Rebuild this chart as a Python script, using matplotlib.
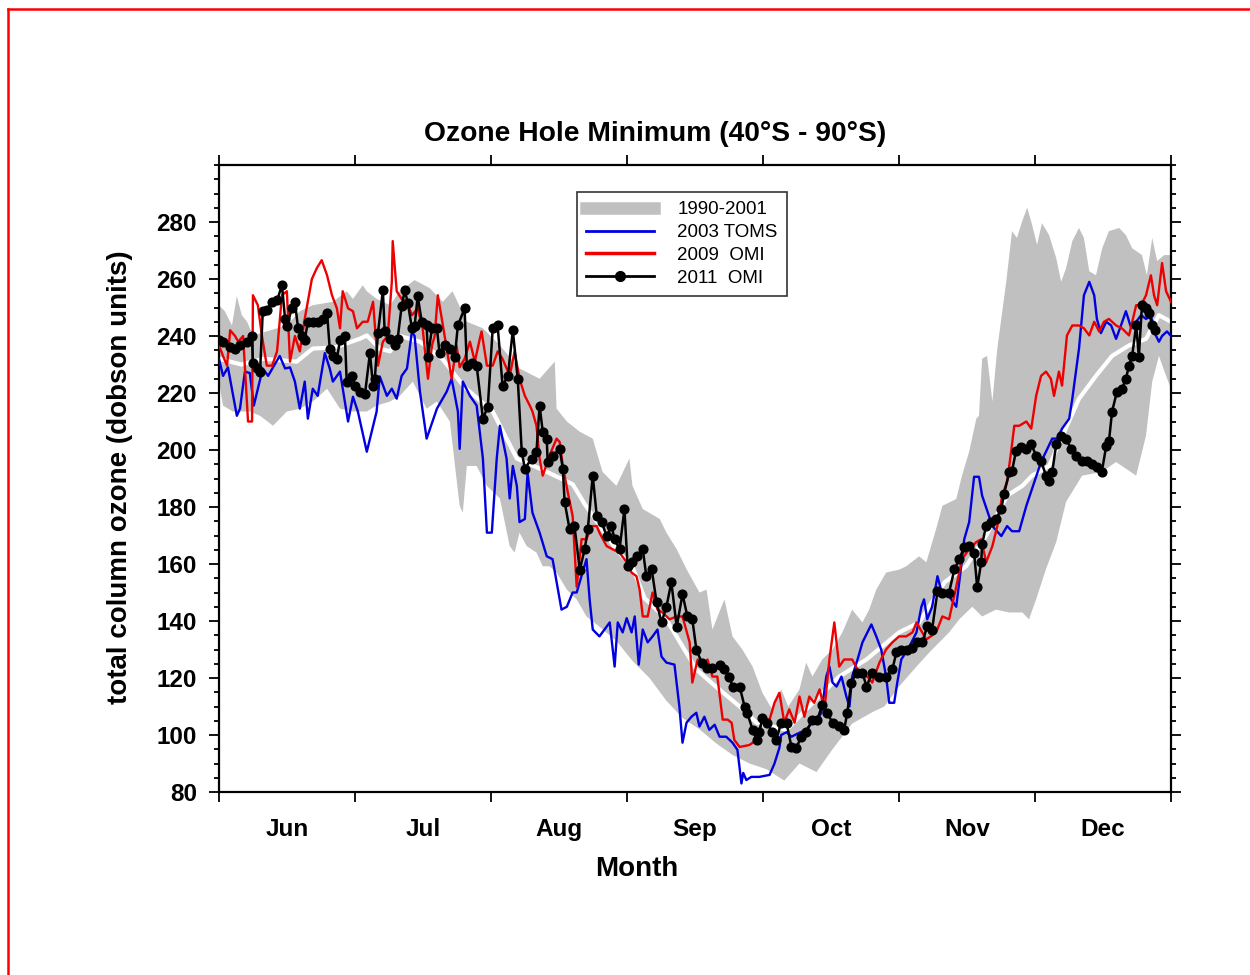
import numpy as np
import matplotlib
matplotlib.use("Agg")
import matplotlib.pyplot as plt
from matplotlib.lines import Line2D
from matplotlib.ticker import MultipleLocator

plt.rcParams['font.family'] = ['Liberation Sans', 'DejaVu Sans']

# x values are days since 1 June
months = ['Jun', 'Jul', 'Aug', 'Sep', 'Oct', 'Nov', 'Dec']
n_days = 213.2

# 1990-2001 range, upper and lower edge
band_hi_x = [0.0, 1.3, 2.9, 4.0, 5.1, 6.3, 7.6, 15.2, 18.1, 21.0, 25.5, 28.6, 30.0, 32.2, 33.1,
             35.3, 38.3, 40.5, 43.8, 47.2, 50.1, 52.3, 55.5, 59.1, 62.9, 67.3, 71.8, 75.2, 75.6,
             77.9, 80.8, 83.7, 85.9, 89.0, 91.9, 92.6, 94.9, 98.7, 100.2, 102.5, 104.7, 107.6,
             109.2, 110.5, 113.2, 115.0, 117.2, 119.5, 121.7, 123.9, 125.9, 127.5, 130.0, 131.5,
             132.9, 135.1, 137.4, 139.6, 141.8, 144.1, 145.6, 147.2, 149.4, 152.3, 153.9, 156.8,
             158.4, 160.6, 162.0, 165.1, 166.4, 168.0, 169.6, 170.2, 170.9, 172.0, 173.2, 174.3,
             176.3, 177.6, 178.7, 179.9, 181.0, 182.1, 183.2, 184.3, 185.9, 187.5, 188.6, 189.7,
             191.1, 192.6, 193.7, 194.9, 196.4, 197.8, 199.3, 201.6, 203.1, 204.5, 206.7, 207.8,
             209.0, 210.1, 211.7, 213.2]
band_hi_y = [250.8, 248.7, 243.7, 254, 247.3, 245, 240.2, 243.7, 248.7, 250.8, 252, 255.7, 253,
             257.8, 255.7, 253, 250.8, 255.7, 259.6, 256.8, 252, 255.7, 245, 242.7, 236.7, 228.6,
             225, 231, 214.5, 210, 206.4, 204, 192.3, 187.4, 197, 187.4, 179.3, 175.8, 171,
             165.2, 158.2, 150, 151, 137, 147.6, 134.6, 130, 124, 114.8, 108.9, 116, 110, 116,
             125.4, 120.5, 126.5, 130, 136, 144, 139.5, 144, 151, 157, 158, 159.2, 162.7, 160.6,
             172.3, 180.4, 182.8, 191, 199.4, 211, 212, 232, 233, 217, 235.6, 259, 276.8, 274.4,
             280.4, 285, 279, 272, 279.6, 275.4, 267.3, 259, 263.8, 273.3, 277.9, 274.4, 262.7,
             261.3, 270.8, 276.8, 277.9, 275.4, 270.8, 268.4, 261.3, 274.4, 266.3, 268.4, 268.4]
band_lo_x = [0.0, 0.9, 3.1, 6.9, 9.2, 12.1, 15.2, 18.1, 21.0, 24.2, 27.1, 30.0, 33.1, 35.3, 38.3,
             40.5, 43.4, 46.5, 48.8, 51.7, 53.9, 54.6, 55.5, 57.7, 60.0, 62.9, 65.1, 66.2, 67.3,
             68.9, 71.1, 72.5, 74.0, 75.6, 77.9, 80.1, 82.3, 85.2, 89.0, 92.6, 96.4, 100.2, 103.8,
             107.6, 111.4, 115.0, 118.8, 122.6, 126.6, 130.0, 133.8, 137.4, 141.8, 146.3, 149.0,
             152.3, 156.2, 159.1, 163.5, 165.8, 168.7, 170.9, 174.0, 176.9, 179.9, 181.4, 183.0,
             185.2, 187.5, 189.7, 193.3, 197.7, 200.9, 205.4, 207.6, 209.0, 210.5, 212.1, 213.2]
band_lo_y = [224, 215.6, 213.5, 213.5, 212, 208.5, 213.5, 214.5, 217, 221.5, 214.5, 213.5, 213.5,
             215.6, 217, 219, 224, 214.5, 217, 210, 180.4, 178, 194.4, 194.4, 187.4, 183, 166.3,
             164, 171, 166.3, 164, 159.2, 159.2, 157, 151, 147.6, 141.6, 138, 133, 126, 120, 112,
             106, 102, 97, 93, 90, 88, 84, 90, 87, 95, 104, 108, 110, 117, 124, 129, 136, 140.6,
             145, 141.6, 144, 143, 143, 140.6, 147.6, 158.2, 167.7, 181.8, 191, 192.3, 195.8, 191,
             205, 224, 233, 226, 221.5]

# 1990-2001 mean (white line)
mean_x = [0.0, 5.0, 10.0, 17.4, 21.0, 26.0, 31.5, 33.1, 36.0, 38.3, 40.5, 45.0, 50.0, 55.0, 61.3,
          66.7, 72.5, 79.2, 81.9, 89.0, 92.6, 95.3, 100.0, 106.9, 110.5, 116.6, 120.4, 127.1,
          131.5, 138.9, 145.0, 152.3, 156.8, 162.5, 167.3, 171.8, 176.5, 179.9, 182.1, 185.9,
          192.6, 196.4, 200.0, 203.8, 207.6, 210.5, 213.2]
mean_y = [232, 230, 232, 231, 235.6, 236, 239, 240.2, 235.6, 234.6, 240, 238, 232, 222, 213.5,
          197, 193, 188, 181, 165, 159, 148, 141, 123, 118, 110, 104.3, 101.8, 109, 120.5, 126.5,
          136, 139.5, 153.6, 159.2, 170, 184, 187.4, 191, 194.4, 218, 226, 233, 236.7, 239,
          247.3, 245]

# 2003 TOMS
toms03_x = [0.0, 0.9, 2.0, 4.0, 4.7, 5.8, 6.9, 7.8, 8.7, 9.8, 11.0, 12.1, 13.6, 14.8, 15.9, 17.0,
            18.1, 19.2, 19.9, 21.0, 22.1, 23.7, 24.8, 25.5, 27.1, 28.9, 30.0, 31.1, 33.1, 35.3,
            36.0, 37.6, 38.7, 39.8, 40.9, 42.1, 43.2, 43.8, 45.0, 46.5, 48.8, 51.0, 52.1, 53.5,
            53.9, 54.6, 56.2, 57.7, 59.1, 60.0, 61.1, 62.2, 62.9, 64.4, 65.1, 65.8, 66.7, 67.3,
            68.5, 69.1, 70.2, 71.8, 73.4, 74.7, 75.8, 76.7, 77.9, 79.2, 80.1, 82.3, 83.0, 83.7,
            85.2, 87.5, 88.6, 89.3, 90.4, 91.3, 92.4, 93.1, 94.0, 94.9, 96.0, 97.1, 98.2, 99.1,
            100.2, 102.0, 103.1, 103.8, 104.7, 105.8, 106.9, 107.6, 108.7, 109.8, 111.0, 112.1,
            113.6, 115.0, 116.1, 117.0, 117.4, 118.1, 119.2, 121.0, 123.3, 124.4, 125.5, 125.9,
            127.1, 128.2, 130.0, 131.5, 132.9, 134.0, 134.9, 136.0, 136.7, 137.4, 138.3, 139.4,
            140.5, 141.2, 141.8, 143.0, 144.1, 146.1, 147.2, 148.3, 149.4, 150.1, 151.2, 151.9,
            152.8, 154.6, 156.2, 157.3, 157.9, 158.6, 159.7, 160.9, 161.7, 162.9, 164.0, 165.1,
            166.2, 166.9, 168.0, 169.1, 170.2, 170.9, 173.2, 175.2, 176.5, 177.6, 179.2, 180.8,
            182.6, 184.1, 185.2, 186.6, 187.7, 188.8, 190.4, 191.1, 192.6, 193.7, 194.9, 196.0,
            196.6, 197.5, 198.7, 199.8, 200.9, 202.0, 203.1, 204.3, 205.4, 206.5, 207.6, 208.7,
            209.8, 210.5, 211.2, 212.3, 213.2]
toms03_y = [232, 226, 229, 212, 214.5, 227.5, 227, 215.6, 221.5, 228.6, 226, 229, 233, 228.6, 229,
            224, 214.5, 224, 211, 221.5, 219, 234, 228.6, 224, 227.5, 210, 218.7, 213.5, 199.4,
            213.5, 225.8, 219, 221.5, 218, 226, 228.6, 241.6, 240, 220.5, 204, 214.5, 220.5, 225,
            213.5, 200.4, 224, 219, 215.6, 197, 171, 171, 197, 208.5, 197, 183, 194.4, 187.4,
            174.7, 175.8, 192, 178, 171, 162.7, 161.7, 152, 144, 145, 150, 150, 161.7, 147.6, 137,
            134.6, 139.5, 124, 139.5, 136, 141, 136, 141.6, 124.7, 137, 132.5, 134.6, 137, 127.5,
            125.4, 124.7, 110, 97.3, 104.3, 106.4, 107.8, 103, 106.4, 101.8, 103.6, 99.4, 99.4,
            97.3, 94.8, 83, 86.7, 84.2, 85.3, 85.3, 86, 90, 95.5, 100, 101, 99.4, 100.8, 101.8,
            104.6, 105.4, 107.8, 120.5, 124, 118.4, 117, 120.5, 113.5, 110, 120.5, 126.5, 132.5,
            138.8, 134.6, 130, 120.5, 111.3, 111.3, 118.4, 126.5, 131, 136, 145, 147.6, 140.6,
            145, 155.7, 151, 150, 147.6, 145, 159, 168.7, 174.7, 190.6, 190.6, 184, 173.3, 169.8,
            173.3, 171.5, 171.5, 180.4, 188.8, 195.8, 199.4, 204, 204, 207.5, 211, 218, 235.6,
            254.3, 259, 254.3, 246, 241, 245, 243.7, 239, 243.7, 248.7, 242.7, 245, 247.3, 246,
            247, 240.2, 238, 240, 241.6, 240]

# 2009 OMI
omi09_x = [0.0, 0.9, 1.8, 2.5, 3.6, 4.3, 5.4, 6.5, 7.4, 7.6, 8.7, 9.6, 10.7, 11.9, 13.0, 14.1,
           15.2, 15.9, 17.0, 18.1, 19.2, 20.8, 21.9, 23.0, 24.2, 25.3, 26.4, 27.1, 27.7, 28.9,
           30.0, 30.9, 32.2, 33.3, 34.5, 35.6, 36.7, 37.8, 38.7, 38.9, 39.8, 40.9, 42.1, 43.2,
           44.5, 45.6, 46.8, 47.7, 48.3, 49.0, 49.9, 51.0, 52.1, 53.2, 53.9, 55.0, 56.2, 57.3,
           58.4, 58.8, 60.0, 61.3, 62.4, 63.5, 65.1, 66.2, 67.3, 68.5, 69.6, 70.2, 71.1, 71.8,
           72.5, 74.0, 75.6, 76.3, 77.0, 78.1, 79.2, 80.1, 81.2, 82.3, 83.4, 84.6, 85.2, 86.8,
           88.1, 89.7, 91.3, 92.4, 93.5, 94.2, 94.9, 96.0, 97.1, 98.2, 99.3, 100.9, 102.5, 103.8,
           105.4, 106.0, 107.2, 108.3, 109.4, 110.5, 111.6, 112.8, 113.9, 114.8, 115.4, 116.6,
           118.8, 120.4, 121.7, 123.3, 124.4, 125.5, 126.6, 127.7, 128.9, 130.0, 131.1, 132.2,
           133.3, 134.5, 135.6, 136.7, 137.8, 138.9, 140.0, 141.8, 143.0, 144.1, 145.2, 146.3,
           147.9, 149.4, 150.8, 152.3, 153.9, 155.3, 156.2, 158.4, 160.6, 162.0, 163.5, 165.1,
           166.4, 168.0, 169.6, 170.7, 171.8, 173.2, 174.3, 175.4, 176.5, 177.4, 178.1, 179.2,
           180.8, 181.9, 183.0, 184.1, 185.2, 186.3, 187.0, 188.1, 188.8, 189.9, 191.1, 192.6,
           193.7, 194.9, 196.0, 197.1, 198.2, 199.3, 200.9, 202.2, 203.8, 205.4, 206.5, 207.6,
           208.7, 209.4, 210.1, 211.2, 212.1, 213.2]
omi09_y = [236.7, 233, 229.6, 242, 240, 238, 240, 210, 210, 254.3, 250.8, 240.2, 229.6, 229.6,
           234.6, 254.3, 255.7, 231, 240, 234.6, 246, 260, 263.8, 266.6, 261.3, 254.3, 249.7,
           242.7, 255.7, 249.7, 248.7, 242.7, 245, 245, 252, 229.6, 238, 240, 259, 273.3, 255.7,
           253, 252, 247.3, 249.7, 242.7, 225, 236.7, 240, 254.3, 246, 235.6, 225, 236.7, 229,
           232, 238, 231, 239, 241.6, 229.6, 229.6, 234.6, 232, 226, 234.6, 225, 219, 215.6,
           213.5, 208.5, 197, 191, 198, 204, 202.8, 194.4, 185.2, 176.8, 152, 168.7, 168.7, 173.3,
           173.3, 171, 166.3, 165.2, 164, 160.6, 157, 155.7, 151, 141.6, 141.6, 150, 144, 143,
           140.6, 141.6, 141.6, 132.5, 118.4, 126.5, 124, 126.5, 120.5, 120.5, 105.4, 105.4,
           104.3, 98.3, 95.8, 96.5, 98.3, 105.4, 105.4, 111.3, 114.8, 104.3, 109, 104.3, 113.5,
           106.4, 113.5, 111.3, 116, 109, 126.5, 139.5, 124, 126.5, 126.5, 123, 120.5, 120.5,
           118.4, 125.4, 130, 132.5, 134.6, 134.6, 136, 139.5, 133.5, 136, 141.6, 140.6, 152,
           161.7, 165.2, 167.7, 168.7, 160.6, 166.3, 173.3, 184, 189, 199.4, 208.5, 208.5, 210,
           207.5, 219, 226, 227.5, 225, 219, 227.5, 222.6, 240.2, 243.7, 243.7, 242.7, 240.2,
           245, 241.6, 245, 246, 243.7, 242.7, 240.2, 250.8, 250.8, 254.3, 261.3, 254.3, 250.8,
           265.6, 255.7, 252]

# 2011 OMI (daily, with markers)
omi11_x = [0.0, 0.9, 2.5, 3.6, 4.7, 6.3, 7.4, 7.6, 8.5, 9.2, 9.8, 10.7, 11.9, 13.0, 14.1, 14.8,
           15.2, 16.3, 17.0, 17.7, 18.6, 19.2, 19.9, 21.0, 22.1, 23.3, 24.2, 24.8, 25.5, 26.4,
           27.1, 28.2, 28.6, 29.8, 30.4, 31.5, 32.7, 33.8, 34.5, 34.9, 35.6, 36.7, 37.1, 38.3,
           39.4, 40.0, 40.9, 41.6, 42.3, 43.2, 43.8, 44.5, 45.4, 46.5, 46.8, 47.7, 48.8, 49.4,
           50.6, 51.7, 52.8, 53.5, 55.0, 55.5, 56.6, 57.7, 59.1, 60.2, 61.3, 62.4, 63.5, 64.7,
           65.8, 66.9, 67.8, 68.5, 70.0, 71.1, 71.8, 72.5, 73.4, 73.6, 74.7, 76.3, 77.0, 77.4,
           78.5, 79.6, 80.8, 81.9, 82.6, 83.7, 84.6, 85.7, 86.8, 87.9, 88.6, 89.7, 90.8, 91.5,
           92.6, 93.7, 94.9, 95.7, 96.9, 98.0, 99.1, 100.2, 101.3, 102.5, 103.8, 104.9, 106.0,
           106.9, 108.1, 109.2, 110.5, 112.1, 113.2, 114.3, 115.0, 116.6, 117.7, 118.3, 119.5,
           120.4, 121.0, 121.7, 122.8, 123.9, 124.8, 125.9, 127.1, 128.2, 129.3, 130.4, 131.5,
           132.9, 134.0, 135.1, 136.2, 137.4, 138.9, 140.0, 140.7, 141.6, 142.8, 144.1, 145.0,
           146.3, 147.9, 149.4, 150.8, 151.7, 152.8, 154.1, 155.3, 156.4, 157.5, 158.6, 159.7,
           160.9, 162.0, 163.5, 164.7, 165.8, 166.9, 168.0, 169.1, 169.8, 170.7, 170.9, 171.8,
           172.9, 174.0, 175.2, 175.8, 177.0, 177.6, 178.5, 179.6, 180.8, 181.9, 183.0, 184.1,
           185.2, 185.9, 186.6, 187.5, 188.6, 189.7, 190.8, 191.9, 193.3, 194.4, 195.5, 196.6,
           197.7, 198.7, 199.3, 200.0, 201.1, 202.2, 203.1, 203.8, 204.5, 205.4, 206.0, 206.7,
           207.6, 208.3, 209.0, 209.6]
omi11_y = [238.5, 238, 236.3, 235.6, 236.7, 238, 240, 230.4, 228.6, 227.5, 248.7, 249, 252,
           252.5, 257.8, 246, 243.4, 249.7, 252, 242.7, 240, 238.5, 245, 245, 245, 246, 248,
           235.6, 233, 232, 238.5, 240, 224, 226, 222.6, 220.5, 219.8, 233.9, 222.6, 225, 241,
           256, 241.6, 239, 236.7, 239, 250.4, 256, 251.5, 242.7, 243.4, 254, 245, 243.7, 232.8,
           242.7, 242.7, 233.9, 236.7, 235.6, 232.8, 243.7, 249.7, 229.3, 230.4, 229.6, 211,
           215.2, 242.7, 243.7, 222.6, 226, 242, 225, 199.4, 193.4, 197, 199.4, 215.6, 206.4,
           204, 195.8, 198, 200.4, 193.4, 181.8, 172.3, 173.3, 158, 165.2, 172.3, 191, 176.8,
           174.7, 169.8, 173.3, 168.7, 165.2, 179.3, 159.2, 160.6, 162.7, 165.2, 155.7, 158.2,
           146.5, 139.5, 145, 153.6, 138, 149.4, 141.6, 140.6, 130, 125.4, 123.6, 123.6, 124.7,
           123, 120.5, 117, 117, 110, 107.8, 101.8, 98.3, 101, 106, 104.3, 101, 98.3, 104.3,
           104.3, 95.8, 95.5, 99.4, 101, 105.4, 105.4, 110.6, 107.8, 104.3, 103, 101.8, 107.8,
           118.4, 121.9, 121.9, 117, 121.9, 120.5, 120.5, 123, 129, 130, 130, 130.7, 132.5,
           132.5, 138.1, 137, 150.4, 150, 150, 158.2, 161.7, 166, 166.3, 164, 151.8, 160.6, 167,
           173.3, 174.7, 175.8, 179.3, 184.6, 192.3, 192.7, 199.7, 201, 200.4, 202, 198, 196.2,
           191, 189.2, 192.3, 202, 205, 204, 200.4, 198, 196.2, 196.2, 195, 194, 192.3, 201.5,
           203, 213.5, 220.5, 221.5, 225, 229.6, 233, 243.7, 232.8, 250.8, 249.7, 248, 243.7,
           242]

fig = plt.figure(figsize=(12.5, 9.75), dpi=100)
ax = fig.add_axes([219 / 1250, 1 - 792 / 975, 952 / 1250, 627 / 975])

band_poly_x = np.concatenate([band_hi_x, band_lo_x[::-1]])
band_poly_y = np.concatenate([band_hi_y, band_lo_y[::-1]])
ax.fill(band_poly_x, band_poly_y, color='#c0c0c0', lw=0, zorder=1)
ax.plot(mean_x, mean_y, color='white', lw=3, zorder=2)
ax.plot(toms03_x, toms03_y, color='#0000e0', lw=1.7, zorder=3)
ax.plot(omi09_x, omi09_y, color='#ee0000', lw=1.7, zorder=4)
ax.plot(omi11_x, omi11_y, color='black', lw=1.8, marker='o', ms=6.3, zorder=5)

ax.set_xlim(0, n_days)
ax.set_ylim(80, 300)

step = n_days / len(months)
ax.set_xticks([step * i for i in range(len(months) + 1)])
ax.set_xticklabels([])
ax.set_xticks([step * (i + 0.5) for i in range(len(months))], minor=True)
ax.set_xticklabels(months, minor=True, fontsize=17.5, fontweight='bold')
ax.tick_params(axis='x', which='major', direction='out', length=7, width=1.3,
               top=True, bottom=True)
ax.tick_params(axis='x', which='minor', length=0, pad=19)

ax.set_yticks(np.arange(80, 281, 20))
ax.yaxis.set_minor_locator(MultipleLocator(5))
ax.tick_params(axis='y', which='both', direction='out', left=True, right=True, width=1.3)
ax.tick_params(axis='y', which='major', length=7, labelsize=17.5, pad=9)
ax.tick_params(axis='y', which='minor', length=3.5)
for lab in ax.get_yticklabels():
    lab.set_fontweight('bold')

for sp in ax.spines.values():
    sp.set_linewidth(1.6)

fig.text(655 / 1250, 1 - 141 / 975, 'Ozone Hole Minimum (40°S - 90°S)', ha='center',
         va='baseline', fontsize=20.3, fontweight='bold')
fig.text(637 / 1250, 1 - 876 / 975, 'Month', ha='center', va='baseline', fontsize=20,
         fontweight='bold')
fig.text(120 / 1250, 1 - 477 / 975, 'total column ozone (dobson units)', ha='center',
         va='center', rotation=90, fontsize=20, fontweight='bold')

handles = [
    Line2D([], [], color='#c0c0c0', lw=9),
    Line2D([], [], color='#0000e0', lw=2),
    Line2D([], [], color='#ee0000', lw=2.5),
    Line2D([], [], color='black', lw=2, marker='o', ms=7),
]
labels = ['1990-2001', '2003 TOMS', '2009  OMI', '2011  OMI']
leg = ax.legend(handles, labels, loc='upper left',
                bbox_to_anchor=((577 - 219) / 952, (792 - 192) / 627),
                fontsize=13.5, frameon=True, fancybox=False, borderpad=0.5,
                labelspacing=0.3, handlelength=3.6, handletextpad=1.25, borderaxespad=0)
leg.get_frame().set_edgecolor('black')
leg.get_frame().set_linewidth(1.2)

# red frame at the top and left of the image
fig.add_artist(Line2D([8 / 1250, 8 / 1250], [0, 1 - 9 / 975], transform=fig.transFigure,
                      color='red', lw=1.8))
fig.add_artist(Line2D([8 / 1250, 1], [1 - 9 / 975, 1 - 9 / 975], transform=fig.transFigure,
                      color='red', lw=1.8))

fig.savefig('out.png', dpi=100)
